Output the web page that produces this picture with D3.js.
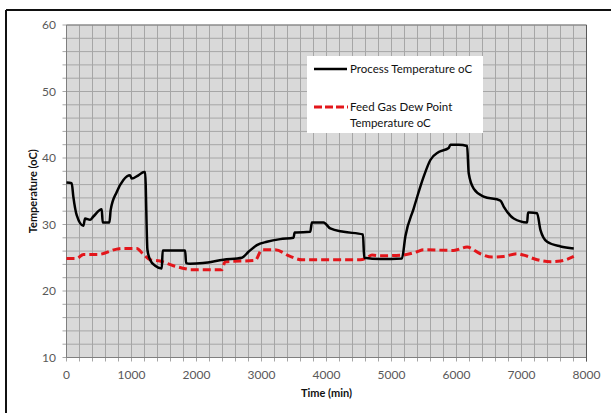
<!DOCTYPE html>
<html><head><meta charset="utf-8">
<script src="https://cdn.jsdelivr.net/npm/d3@7"></script>
<style>
html,body{margin:0;padding:0;background:#fff;}
svg{display:block;font-family:Lato,"Open Sans",sans-serif;}
</style></head>
<body>
<svg id="c" width="611" height="413"></svg>
<script>
// Time (min) and temperature readings
const processTime = [0,80,105,157,260,285,362,413,542,557,660,680,773,875,978,1003,1106,1193,1209,1245,1286,1363,1466,1480,1825,1840,1902,2100,2415,2698,2800,2929,3083,3288,3493,3510,3534,3750,3775,3955,4058,4263,4561,4580,4828,5161,5213,5341,5495,5598,5726,5880,5906,6034,6163,6188,6264,6418,6675,6726,6880,7087,7100,7127,7240,7291,7394,7600,7804];
const processTemp = [36.3,36.2,34.2,31.4,29.8,30.9,30.7,31.2,32.3,30.3,30.3,32.2,34.9,36.7,37.4,36.9,37.4,37.9,37.9,26.2,24.7,23.8,23.4,26.1,26.1,24.2,24.1,24.2,24.7,25.0,25.9,26.9,27.4,27.8,28.0,28.8,28.8,28.9,30.3,30.3,29.4,28.9,28.5,25.0,24.8,24.9,28.2,32.4,37.2,39.7,40.9,41.5,42.0,42.0,41.8,37.7,35.4,34.2,33.6,32.7,30.9,30.3,31.8,31.8,31.7,29.2,27.4,26.7,26.4];
const dewTime = [0,157,260,490,773,850,1081,1183,1286,1440,1645,1851,1902,2390,2441,2903,3006,3211,3442,3622,4520,4623,4700,4828,5161,5393,5495,5957,6163,6367,6547,6726,6932,7034,7240,7445,7600,7804];
const dewTemp = [24.9,24.9,25.5,25.5,26.3,26.4,26.4,25.5,24.7,24.5,23.8,23.3,23.2,23.2,24.4,24.6,26.2,26.2,25.2,24.7,24.7,25.0,25.4,25.3,25.4,25.9,26.2,26.1,26.6,25.6,25.1,25.2,25.6,25.4,24.7,24.4,24.5,25.2];
const xTicks = [0,1000,2000,3000,4000,5000,6000,7000,8000];
const yTicks = [10,20,30,40,50,60];
const legendLabels = [["Process Temperature oC"],["Feed Gas Dew Point","Temperature oC"]];

const svg = d3.select("#c");
const L = 66.5, R = 586.5, T = 25, B = 357.5;
const x = d3.scaleLinear().domain([0,8000]).range([L,R]);
const y = d3.scaleLinear().domain([10,60]).range([B,T]);

// outer frame
svg.append("line").attr("x1",6).attr("x2",611).attr("y1",10).attr("y2",10).attr("stroke","#111").attr("stroke-width",2);
svg.append("line").attr("x1",6).attr("x2",6).attr("y1",10).attr("y2",413).attr("stroke","#111").attr("stroke-width",2);

// plot background
svg.append("rect").attr("x",L).attr("y",T).attr("width",R-L).attr("height",B-T).attr("fill","#d9d9d9");

// grid
const gx = d3.range(0,8001,200), gy = d3.range(10,60.1,2);
svg.append("g").selectAll("line").data(gx).join("line")
  .attr("x1",d=>x(d)).attr("x2",d=>x(d)).attr("y1",T).attr("y2",B+4)
  .attr("stroke","#a6a6a6").attr("stroke-width",1);
svg.append("g").selectAll("line").data(gy).join("line")
  .attr("x1",L-4).attr("x2",R).attr("y1",d=>y(d)).attr("y2",d=>y(d))
  .attr("stroke","#a6a6a6").attr("stroke-width",1);

// border of plot
svg.append("line").attr("x1",L).attr("x2",L).attr("y1",T).attr("y2",B).attr("stroke","#7f7f7f");
svg.append("line").attr("x1",L).attr("x2",R).attr("y1",B).attr("y2",B).attr("stroke","#7f7f7f");
svg.append("line").attr("x1",L).attr("x2",R).attr("y1",T).attr("y2",T).attr("stroke","#7f7f7f");
svg.append("line").attr("x1",R).attr("x2",R).attr("y1",T).attr("y2",B+4).attr("stroke","#595959");

// tick labels
svg.append("g").selectAll("text").data(yTicks).join("text")
  .attr("x",56).attr("y",d=>y(d)+4).attr("text-anchor","end")
  .attr("font-size","12px").attr("fill","#595959").text(d=>d);
svg.append("g").selectAll("text").data(xTicks).join("text")
  .attr("x",d=>x(d)).attr("y",379).attr("text-anchor","middle")
  .attr("font-size","12px").attr("fill","#595959").text(d=>d);

// axis titles
svg.append("text").attr("x",x(4000)).attr("y",397).attr("text-anchor","middle")
  .attr("font-size","11px").attr("font-weight","bold").attr("fill","#111").text("Time (min)");
svg.append("text").attr("transform",`translate(37,${(T+B)/2}) rotate(-90)`).attr("text-anchor","middle")
  .attr("font-size","11px").attr("font-weight","bold").attr("fill","#111").text("Temperature (oC)");

// lines
const line = d3.line().x(d=>x(d[0])).y(d=>y(d[1])).curve(d3.curveMonotoneX);
svg.append("path").datum(dewTime.map((t,i)=>[t,dewTemp[i]])).attr("d",line)
  .attr("fill","none").attr("stroke","#e3161b").attr("stroke-width",3).attr("stroke-dasharray","8,4");
svg.append("path").datum(processTime.map((t,i)=>[t,processTemp[i]])).attr("d",line)
  .attr("fill","none").attr("stroke","#000").attr("stroke-width",2.5).attr("stroke-linejoin","round");

// legend
const lg = svg.append("g");
lg.append("rect").attr("x",307).attr("y",56).attr("width",176).attr("height",77).attr("fill","#fff");
lg.append("line").attr("x1",314).attr("x2",347).attr("y1",69).attr("y2",69).attr("stroke","#000").attr("stroke-width",2.5);
lg.append("line").attr("x1",314).attr("x2",348).attr("y1",107).attr("y2",107).attr("stroke","#e3161b").attr("stroke-width",3).attr("stroke-dasharray","8,3");
const ly = [[73],[111,127]];
legendLabels.forEach((lines,i)=>{
  lines.forEach((s,j)=>{
    lg.append("text").attr("x",350).attr("y",ly[i][j]).attr("font-size","11.5px").attr("fill","#111").text(s);
  });
});
</script>
</body></html>
